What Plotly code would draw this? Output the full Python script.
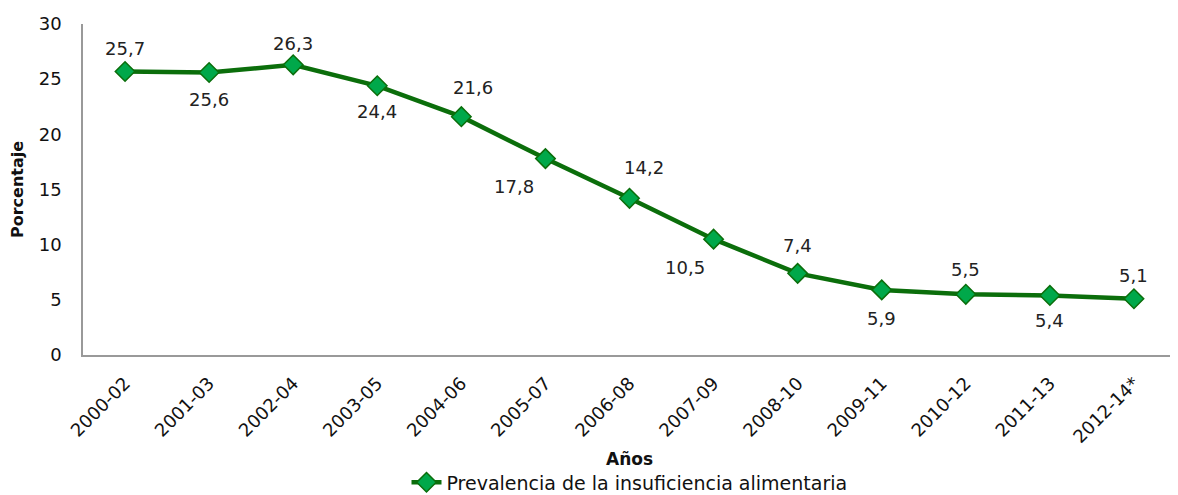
import plotly.graph_objects as go

periodos = ['2000-02', '2001-03', '2002-04', '2003-05', '2004-06', '2005-07', '2006-08',
            '2007-09', '2008-10', '2009-11', '2010-12', '2011-13', '2012-14*']
prevalencia = [25.7, 25.6, 26.3, 24.4, 21.6, 17.8, 14.2, 10.5, 7.4, 5.9, 5.5, 5.4, 5.1]

# desplazamiento (px) de cada etiqueta respecto a su punto
desp_x = [0, 0, 0, 0, 12, -31, 14, -29, 0, 0, 0, 0, 0]
desp_y = [23, -27, 21, -26, 29, -28, 31, -28, 28, -29, 25, -25, 23]

etiquetas = [f"{v:.1f}".replace('.', ',') for v in prevalencia]
fuente = "Century Gothic, DejaVu Sans, sans-serif"
verde = '#0b6e0b'

fig = go.Figure()
fig.add_trace(go.Scatter(
    x=periodos, y=prevalencia, mode='lines+markers',
    name='Prevalencia de la insuficiencia alimentaria',
    line=dict(color=verde, width=4.5),
    marker=dict(symbol='diamond', size=15, color='#00a84a', line=dict(color=verde, width=1.5)),
    cliponaxis=False,
))

for p, v, t, dx, dy in zip(periodos, prevalencia, etiquetas, desp_x, desp_y):
    fig.add_annotation(x=p, y=v, text=t, showarrow=False, xshift=dx, yshift=dy,
                       font=dict(size=18, color='#222222', family=fuente))

# la página html añade 8 px de margen al cuerpo
fig.update_layout(
    width=1170, height=487,
    margin=dict(l=75, r=2, t=16, b=140, autoexpand=False),
    plot_bgcolor='white', paper_bgcolor='white',
    font=dict(family=fuente, color='#111111', size=16),
    showlegend=True,
    legend=dict(orientation='h', x=0.5, xanchor='center', y=-0.385, yanchor='middle',
                font=dict(size=19)),
    xaxis=dict(
        type='category', automargin=False,
        title=dict(text='<b>Años</b>', font=dict(size=17, family='DejaVu Sans, Arial'), standoff=7),
        tickangle=-45, showgrid=False, showline=True, linecolor='#999999', linewidth=1.5,
        range=[-0.5, 12.5], ticks='', tickfont=dict(size=18), ticklabelstandoff=9,
    ),
    yaxis=dict(
        automargin=False,
        title=dict(text='<b>Porcentaje</b>', font=dict(size=16, family='DejaVu Sans, Arial'), standoff=12),
        range=[0, 30], dtick=5, showgrid=False, showline=True, linecolor='#999999', linewidth=1.5,
        ticks='', tickfont=dict(size=18), zeroline=False, ticklabelstandoff=16,
    ),
)

fig.write_html("out.html")
